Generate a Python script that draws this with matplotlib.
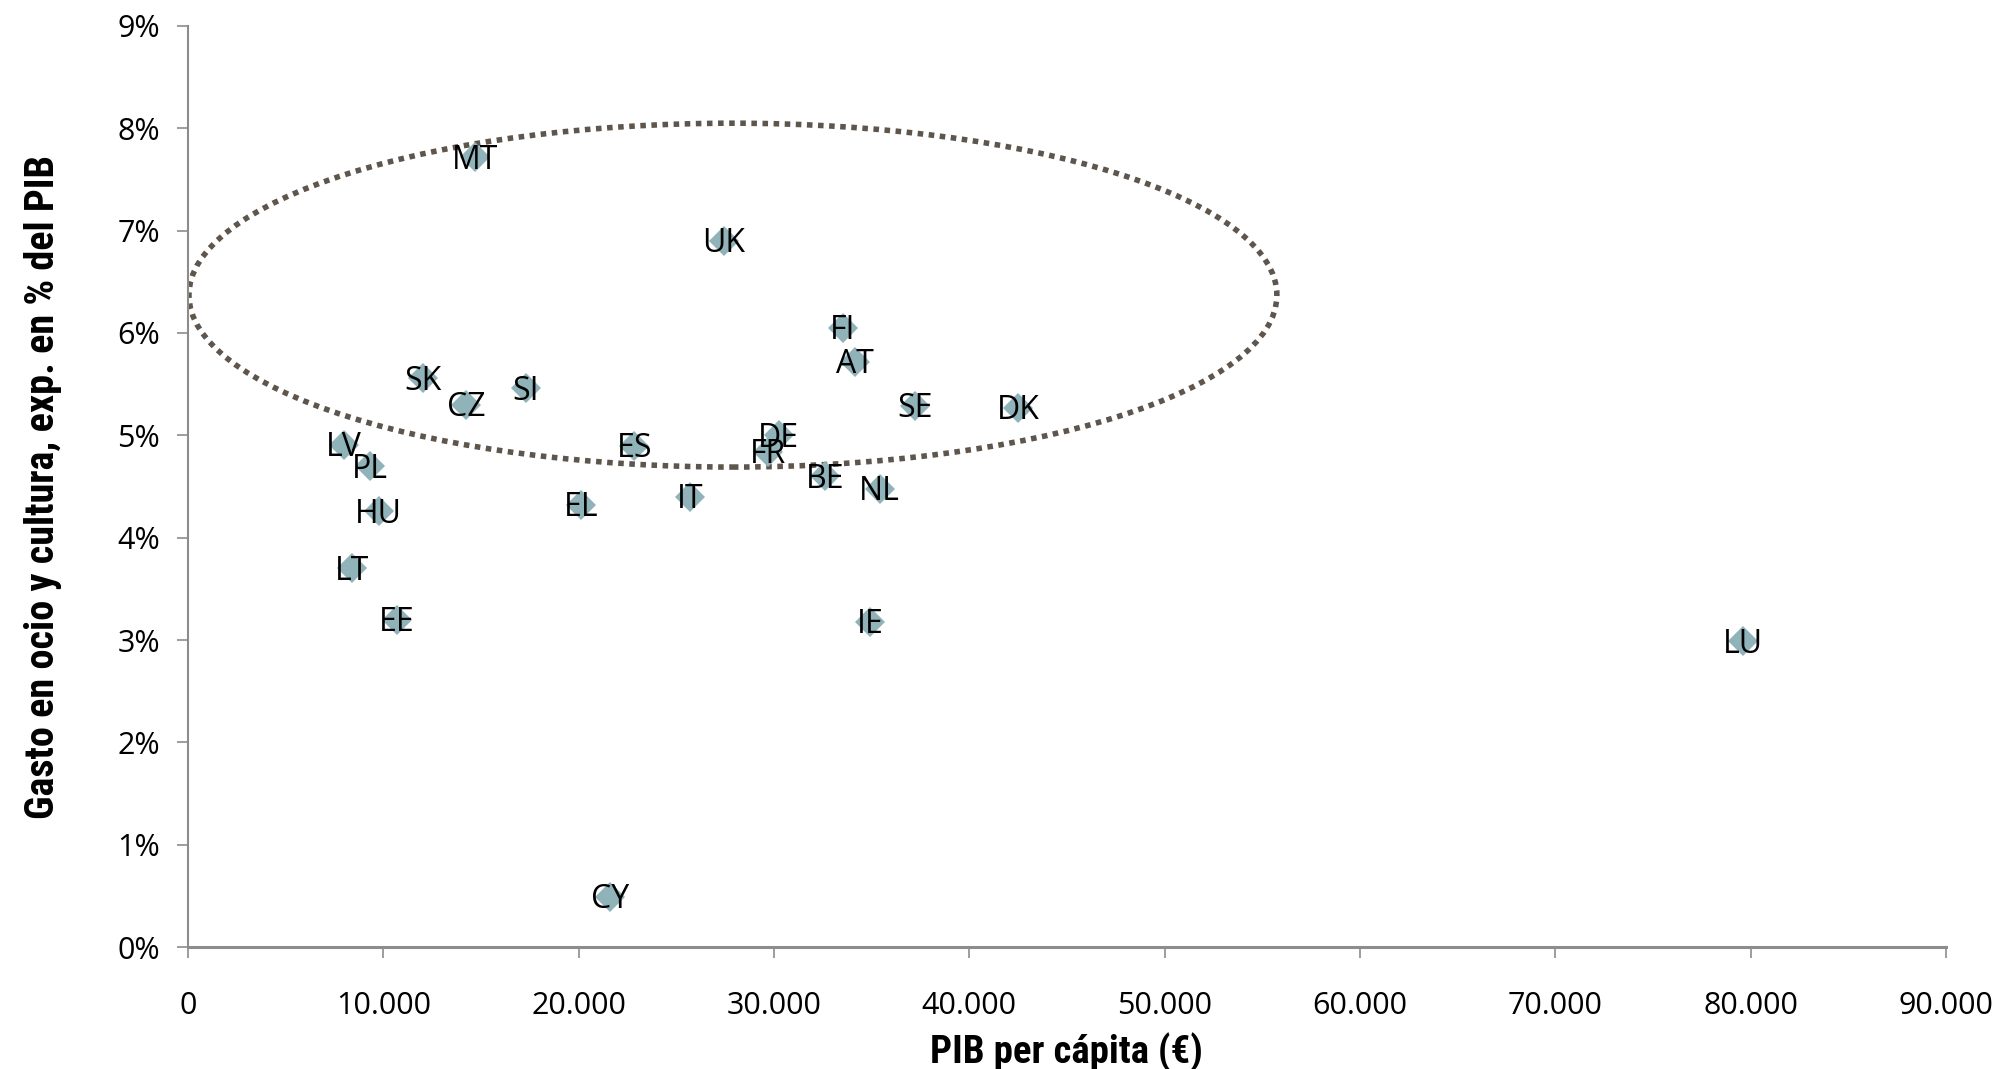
import matplotlib
matplotlib.use("Agg")
from matplotlib import pyplot as plt
from matplotlib import font_manager
from matplotlib.patches import Ellipse
from matplotlib.ticker import FuncFormatter, MultipleLocator

# PIB per capita (EUR) and gasto en ocio y cultura (% del PIB)
countries = ["MT", "UK", "FI", "AT", "SE", "DK", "SK", "CZ", "SI", "LV", "PL",
             "HU", "LT", "EE", "ES", "DE", "FR", "BE", "NL", "EL", "IT", "IE",
             "CY", "LU"]
gdp_pc = [14700, 27450, 33530, 34150, 37210, 42500, 12050, 14230, 17300, 7990,
          9300, 9760, 8380, 10680, 22850, 30250, 29690, 32630, 35420, 20130,
          25700, 34930, 21600, 79610]
leisure = [7.72, 6.90, 6.05, 5.72, 5.29, 5.27, 5.56, 5.30, 5.46, 4.91, 4.70,
           4.26, 3.70, 3.20, 4.90, 5.00, 4.84, 4.60, 4.48, 4.32, 4.40, 3.18,
           0.49, 2.99]

# ellipse around the high-spending group
ell_center = (27900, 6.37)
ell_width = 55700
ell_height = 3.36

names = set(f.name for f in font_manager.fontManager.ttflist)
lab_font = "Open Sans" if "Open Sans" in names else "DejaVu Sans"
title_font = "DejaVu Sans"
for cand in ["Liberation Sans Narrow", "Roboto Condensed", "Open Sans Condensed"]:
    if cand in names:
        title_font = cand
        break

fig = plt.figure(figsize=(20.06, 10.69), dpi=100)
ax = fig.add_axes([0.0937, 0.1141, 0.8763, 0.8616])

ax.plot(gdp_pc, leisure, linestyle="none", marker="D", markersize=15,
        color="#8fb3b9", markeredgewidth=0, zorder=3)

for name, x, y in zip(countries, gdp_pc, leisure):
    ax.text(x, y - 0.03, name, ha="center", va="center", fontsize=23,
            family=lab_font, color="black", zorder=4)

ell = Ellipse(ell_center, ell_width, ell_height, fill=False,
              edgecolor="#5e554d", linewidth=4, linestyle=(0, (1, 1)),
              zorder=2)
ax.add_patch(ell)

ax.set_xlim(0, 90000)
ax.set_ylim(0, 9)
ax.xaxis.set_major_locator(MultipleLocator(10000))
ax.yaxis.set_major_locator(MultipleLocator(1))
ax.xaxis.set_major_formatter(FuncFormatter(
    lambda v, p: "0" if v == 0 else "{:,.0f}".format(v).replace(",", ".")))
ax.yaxis.set_major_formatter(FuncFormatter(lambda v, p: "%d%%" % v))

for s in ["top", "right"]:
    ax.spines[s].set_visible(False)
ax.spines["left"].set_color("#8c8c8c")
ax.spines["bottom"].set_color("#8c8c8c")
ax.spines["left"].set_linewidth(1.5)
ax.spines["bottom"].set_linewidth(2.2)

ax.tick_params(axis="both", direction="out", length=8, width=1.2,
               color="#8c8c8c", labelsize=22)
ax.tick_params(axis="y", pad=12)
ax.tick_params(axis="x", pad=24)
for lab in ax.get_xticklabels() + ax.get_yticklabels():
    lab.set_family(lab_font)

ax.set_xlabel("PIB per cápita (€)", fontsize=28, fontweight="bold",
              family=title_font, stretch="condensed", labelpad=8)
ax.set_ylabel("Gasto en ocio y cultura, exp. en % del PIB", fontsize=29,
              fontweight="bold", family=title_font, stretch="condensed",
              labelpad=40)

fig.savefig("out.png", dpi=100)
